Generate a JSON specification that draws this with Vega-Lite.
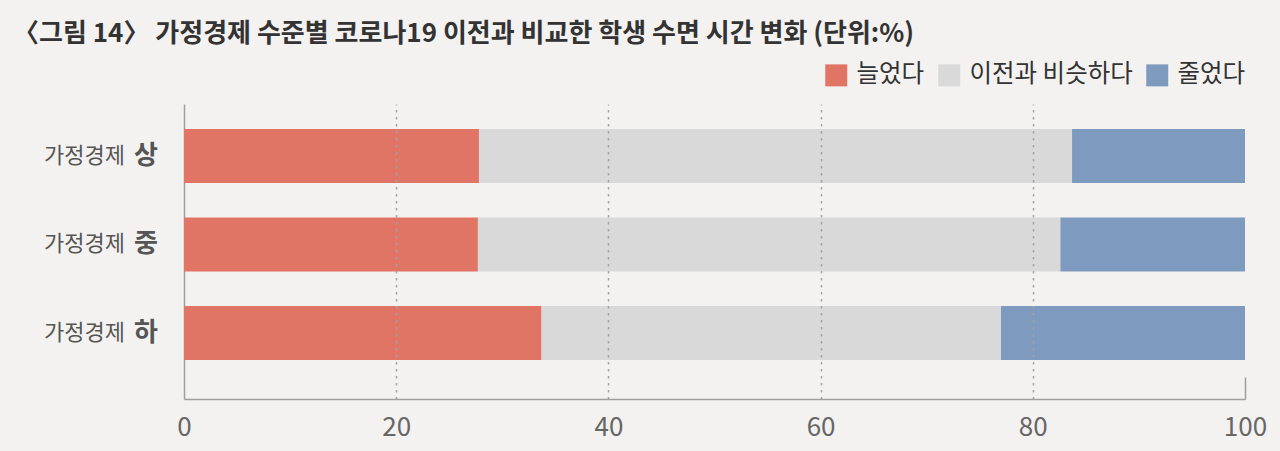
{
  "$schema": "https://vega.github.io/schema/vega-lite/v6.json",
  "width": 1061,
  "height": 295,
  "autosize": {"type": "none"},
  "padding": {"left": 184, "top": 104, "right": 35, "bottom": 52},
  "background": "#F3F2F0",
  "title": {
    "text": "〈그림 14〉 가정경제 수준별 코로나19 이전과 비교한 학생 수면 시간 변화 (단위:%)",
    "anchor": "start",
    "frame": "group",
    "dx": -171,
    "offset": 16,
    "font": "Noto Sans CJK KR",
    "fontSize": 26,
    "fontWeight": "bold",
    "color": "#333333"
  },
  "config": {
    "view": {"stroke": null},
    "font": "Noto Sans CJK KR"
  },
  "datasets": {
    "bars": [
      {"group": "상", "answer": "늘었다", "order": 1, "pct": 27.8},
      {"group": "상", "answer": "이전과 비슷하다", "order": 2, "pct": 55.9},
      {"group": "상", "answer": "줄었다", "order": 3, "pct": 16.3},
      {"group": "중", "answer": "늘었다", "order": 1, "pct": 27.7},
      {"group": "중", "answer": "이전과 비슷하다", "order": 2, "pct": 54.9},
      {"group": "중", "answer": "줄었다", "order": 3, "pct": 17.4},
      {"group": "하", "answer": "늘었다", "order": 1, "pct": 33.7},
      {"group": "하", "answer": "이전과 비슷하다", "order": 2, "pct": 43.3},
      {"group": "하", "answer": "줄었다", "order": 3, "pct": 23.0}
    ],
    "labels": [
      {"group": "상", "prefix": "가정경제"},
      {"group": "중", "prefix": "가정경제"},
      {"group": "하", "prefix": "가정경제"}
    ]
  },
  "encoding": {
    "y": {
      "field": "group",
      "type": "nominal",
      "sort": ["상", "중", "하"],
      "scale": {"paddingInner": 0.39, "paddingOuter": 0.36, "align": 0.39},
      "axis": {
        "title": null,
        "labels": false,
        "ticks": false,
        "domainColor": "#9E9E9E",
        "domainWidth": 1.5
      }
    }
  },
  "layer": [
    {
      "data": {"name": "bars"},
      "mark": {"type": "bar"},
      "encoding": {
        "x": {
          "field": "pct",
          "type": "quantitative",
          "stack": "zero",
          "scale": {"domain": [0, 100], "nice": false},
          "axis": {
            "title": null,
            "values": [0, 20, 40, 60, 80, 100],
            "zindex": 1,
            "domainColor": "#9E9E9E",
            "domainWidth": 1.5,
            "grid": true,
            "gridColor": "#A3A3A3",
            "gridWidth": 1.5,
            "gridDash": [2.5, 4.5],
            "gridOpacity": {"condition": {"test": "datum.value == 0 || datum.value == 100", "value": 0}, "value": 1},
            "tickColor": "#9E9E9E",
            "tickWidth": 1.5,
            "tickSize": -22,
            "tickOpacity": {"condition": {"test": "datum.value == 100", "value": 1}, "value": 0},
            "labelFont": "Noto Sans CJK KR",
            "labelFontSize": 26,
            "labelColor": "#666666",
            "labelFlush": false,
            "labelPadding": 37
          }
        },
        "color": {
          "field": "answer",
          "type": "nominal",
          "scale": {
            "domain": ["늘었다", "이전과 비슷하다", "줄었다"],
            "range": ["#E07566", "#D9D9D9", "#7F9ABF"]
          },
          "legend": {
            "title": null,
            "orient": "none",
            "direction": "horizontal",
            "legendX": 640,
            "legendY": -41,
            "symbolType": "square",
            "symbolSize": 484,
            "symbolStrokeWidth": 0,
            "symbolOpacity": 1,
            "labelFont": "Noto Sans CJK KR",
            "labelFontSize": 24.5,
            "labelColor": "#333333",
            "labelLimit": 400,
            "labelOffset": 8,
            "columnPadding": 12
          }
        },
        "order": {"field": "order"}
      }
    },
    {
      "data": {"name": "labels"},
      "mark": {
        "type": "text",
        "align": "right",
        "baseline": "middle",
        "dx": -59,
        "fontSize": 22,
        "color": "#555555"
      },
      "encoding": {
        "x": {"datum": 0},
        "text": {"field": "prefix"}
      }
    },
    {
      "data": {"name": "labels"},
      "mark": {
        "type": "text",
        "align": "right",
        "baseline": "middle",
        "dx": -26,
        "fontSize": 26,
        "fontWeight": "bold",
        "color": "#555555"
      },
      "encoding": {
        "x": {"datum": 0},
        "text": {"field": "group"}
      }
    }
  ]
}
